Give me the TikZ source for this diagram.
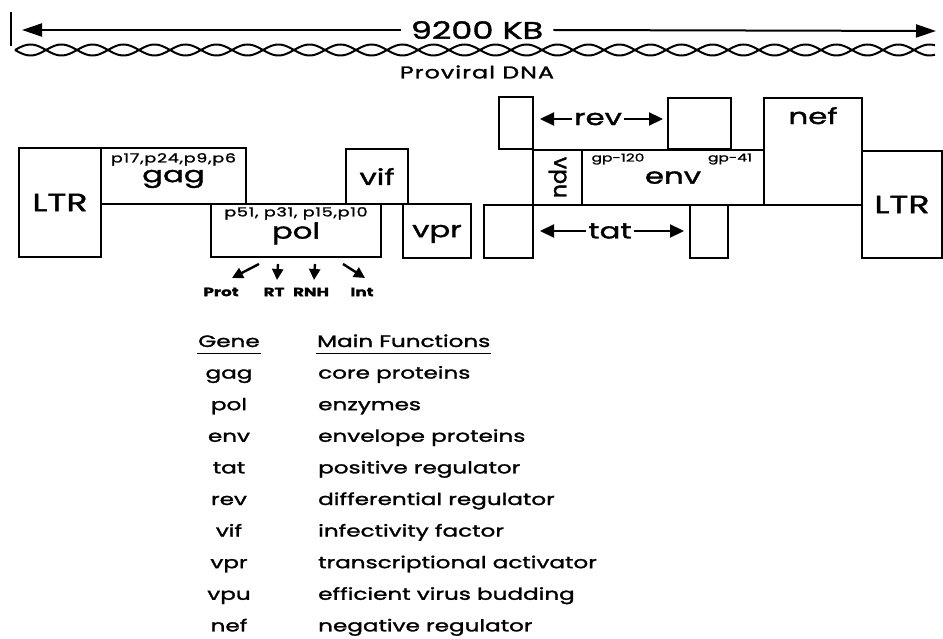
\documentclass[tikz,border=0pt]{standalone}
\usepackage{fontspec}
\setmainfont{Poppins}[FakeStretch=1.4, FakeBold=1.6]
\newfontfamily\uprightfont{Poppins}[FakeBold=1.6]
\usetikzlibrary{arrows.meta, positioning}

\begin{document}
\begin{tikzpicture}[
    x=1pt, y=-1pt,
    genebox/.style={rectangle, draw, line width=2pt, inner sep=0pt, anchor=north west, text depth=0pt, font=\fontsize{22}{24}\selectfont},
    genename/.style={font=\fontsize{22}{24}\selectfont, inner sep=2pt},
    protein/.style={font=\fontsize{11}{12}\selectfont, inner sep=1pt},
    bigarrow/.style={line width=2pt, -{Triangle[length=20pt, width=13pt]}},
    midarrow/.style={line width=2.2pt, -{Triangle[length=14pt, width=13pt]}},
    smallarrow/.style={line width=2.4pt, -{Triangle[length=11pt, width=11pt]}},
    enzyme/.style={font=\bfseries\fontsize{12}{14}\selectfont, inner sep=1pt},
    tableentry/.style={font=\fontsize{16.5}{20}\selectfont, inner sep=1pt, text height=12pt, text depth=4pt}
  ]
  \useasboundingbox (0,0) rectangle (943,639);

  % Genomlaenge und DNA
  \coordinate (barTop) at (11,12);
  \coordinate (barBottom) at (11,46);
  \draw [line width=2.6pt] (barTop) -- (barBottom);
  \node (size) [font=\fontsize{24}{26}\selectfont, inner xsep=10pt] at (477,30) {9200 KB};
  \coordinate (leftEnd) at (22,30);
  \coordinate (rightEnd) at (936,31);
  \draw [bigarrow] (size.west) -- (leftEnd);
  \draw [bigarrow] (size.east) -- (rightEnd);
  \draw [line width=2pt] plot[domain=15:935, samples=400] (\x, {50+5.5*sin(5.80645*(\x-15))});
  \draw [line width=2pt] plot[domain=15:935, samples=400] (\x, {50-5.5*sin(5.80645*(\x-15))});
  \node (dna) [font=\addfontfeature{LetterSpace=6}\fontsize{17}{19}\selectfont] at (477,72) {Proviral DNA};

  % Gene
  \node (ltrL) [genebox, minimum width=82pt, minimum height=109pt, font=\fontsize{25}{27}\selectfont] at (18,147) {LTR};
  \node (gag) [genebox, minimum width=145pt, minimum height=56pt] at (100,147) {gag};
  \node (pol) [genebox, minimum width=170pt, minimum height=53pt] at (210,203) {pol};
  \node (vif) [genebox, minimum width=62pt, minimum height=55pt] at (345,148) {vif};
  \node (vpr) [genebox, minimum width=68pt, minimum height=54pt] at (402,203) {vpr};
  \node (tat1) [genebox, minimum width=49pt, minimum height=53pt] at (483,204) {};
  \node (rev1) [genebox, minimum width=34pt, minimum height=52pt] at (498,96) {};
  \node (vpu) [genebox, minimum width=49pt, minimum height=55pt] at (532,149) {};
  \node (env) [genebox, minimum width=182pt, minimum height=55pt] at (581,149) {env};
  \node (rev2) [genebox, minimum width=63pt, minimum height=51pt] at (667,97) {};
  \node (tat2) [genebox, minimum width=38pt, minimum height=53pt] at (689,204) {};
  \node (nef) [genebox, minimum width=98pt, minimum height=107pt] at (763,97) {};
  \node (ltrR) [genebox, minimum width=80pt, minimum height=107pt, font=\fontsize{25}{27}\selectfont] at (861,150) {LTR};

  \node (vpuname) [font=\uprightfont\fontsize{22}{24}\selectfont, inner sep=1pt, rotate=-90] at (vpu.center) {vpu};
  \node (nefname) [genename, below=8pt of nef.north] {nef};

  % Proteine
  \node (gagprot) [protein, font=\addfontfeature{LetterSpace=6}\fontsize{12.5}{14}\selectfont, below=5pt of gag.north] {p17,p24,p9,p6};
  \node (polprot) [protein, font=\addfontfeature{LetterSpace=6}\fontsize{12.5}{14}\selectfont, below=3pt of pol.north] {p51, p31, p15,p10};
  \node (gp120) [protein] at (618,159) {gp-120};
  \node (gp41) [protein] at (730,159) {gp-41};

  % rev und tat
  \node (revname) [genename] at (598,119) {rev};
  \coordinate (revL) at (540,119);
  \coordinate (revR) at (663,119);
  \draw [midarrow] (revname) -- (revL);
  \draw [midarrow] (revname) -- (revR);
  \node (tatname) [genename] at (610,231) {tat};
  \coordinate (tatL) at (540,231);
  \coordinate (tatR) at (684,231);
  \draw [midarrow] (tatname) -- (tatL);
  \draw [midarrow] (tatname) -- (tatR);

  % Enzyme
  \coordinate (protTip) at (232,278);
  \coordinate (rtTip) at (277,280);
  \coordinate (rnhTip) at (314,280);
  \coordinate (intTip) at (365,278);
  \draw [smallarrow] ([xshift=-37pt, yshift=-6pt]pol.south) -- (protTip);
  \draw [smallarrow] ([xshift=-18pt, yshift=-6pt]pol.south) -- (rtTip);
  \draw [smallarrow] ([xshift=19pt, yshift=-6pt]pol.south) -- (rnhTip);
  \draw [smallarrow] ([xshift=47pt, yshift=-6pt]pol.south) -- (intTip);
  \node (prot) [enzyme] at (221,292) {Prot};
  \node (rt) [enzyme] at (274,292) {RT};
  \node (rnh) [enzyme] at (311,292) {RNH};
  \node (int) [enzyme] at (362,292) {Int};

  % Tabelle
  \node (genehead) [tableentry] at (229,343) {Gene};
  \node (funchead) [tableentry, anchor=west] at (316,343) {Main Functions};
  \draw [line width=1.4pt] ([yshift=-1pt]genehead.south west) -- ([yshift=-1pt]genehead.south east);
  \draw [line width=1.4pt] ([yshift=-1pt]funchead.south west) -- ([yshift=-1pt]funchead.south east);
  \foreach \gene/\func [count=\i] in {gag/core proteins, pol/enzymes, env/envelope proteins,
      tat/positive regulator, rev/differential regulator, vif/infectivity factor,
      vpr/transcriptional activator, vpu/efficient virus budding, nef/negative regulator} {
    \node (gene\i) [tableentry] at (229,{343+31.6*\i}) {\gene};
    \node (func\i) [tableentry, anchor=west] at (317,{343+31.6*\i}) {\func};
  }

\end{tikzpicture}
\end{document}
